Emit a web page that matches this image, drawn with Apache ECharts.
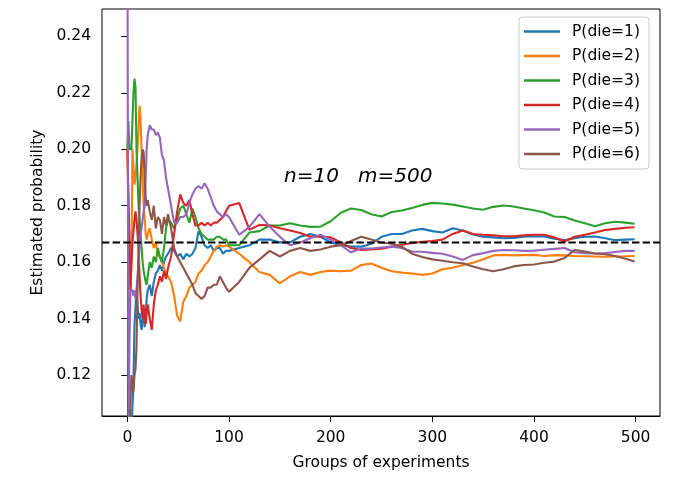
<!DOCTYPE html>
<html>
<head>
<meta charset="utf-8">
<script src="https://cdn.jsdelivr.net/npm/echarts@6/dist/echarts.min.js"></script>
<style>html,body{margin:0;padding:0;background:#fff}#c{width:700px;height:480px}</style>
</head>
<body>
<div id="c"></div>
<script>
// groups of experiments (x positions where values were read)
const groups = [0,1,2,3,4,5,6,7,8,9,10,11,12,13,14,15,16,17,18,19,20,
  22,24,26,28,30,32,34,36,38,40,
  43,46,49,52,55,58,61,64,67,70,73,76,79,82,85,88,91,94,97,100,
  110,120,130,140,150,160,170,180,190,200,210,220,230,240,250,260,270,280,290,300,
  310,320,330,340,350,360,370,380,390,400,410,420,430,440,450,460,470,480,490,499];

const die1 = [0.1,0.1,0.1,0.1,0.1,0.1,0.117,0.1375,0.144,0.15,0.145,0.14,0.142,0.138,0.136,0.14,0.143,0.137,0.141,0.147,0.15,
  0.152,0.148,0.153,0.156,0.157,0.159,0.157,0.16,0.162,0.163,
  0.165,0.164,0.162,0.163,0.161,0.163,0.162,0.163,0.165,0.171,0.169,0.166,0.165,0.166,0.164,0.165,0.165,0.163,0.164,0.164,
  0.165,0.166,0.168,0.168,0.167,0.167,0.169,0.170,0.169,0.167,0.166,0.1655,0.1655,0.1665,0.169,0.170,0.170,0.1712,0.1718,0.1710,
  0.1705,0.1720,0.1712,0.1698,0.1690,0.1688,0.1685,0.1686,0.1690,0.1692,0.1691,0.1683,0.1678,0.1685,0.1690,0.1691,0.1685,0.1678,0.1680,0.1681];

const die2 = [0.2,0.2,0.167,0.15,0.16,0.2,0.2,0.1875,0.19,0.195,0.2,0.208,0.2154,0.21,0.2,0.19,0.18,0.176,0.17,0.168,0.17,
  0.172,0.168,0.165,0.167,0.163,0.162,0.16,0.158,0.156,0.155,
  0.153,0.148,0.141,0.139,0.146,0.148,0.151,0.152,0.153,0.156,0.157,0.159,0.160,0.162,0.164,0.1655,0.166,0.1655,0.166,0.1655,
  0.163,0.160,0.1565,0.1555,0.1525,0.155,0.1565,0.1555,0.1565,0.157,0.1568,0.157,0.159,0.1595,0.158,0.1568,0.1563,0.156,0.1555,0.156,
  0.1575,0.158,0.159,0.1598,0.161,0.1624,0.1626,0.1624,0.1625,0.1626,0.1622,0.1625,0.1624,0.1622,0.1621,0.162,0.1619,0.162,0.1621,0.1622];

const die3 = [0.2,0.21,0.2,0.2,0.2,0.21,0.22,0.225,0.222,0.2,0.19,0.18,0.175,0.17,0.165,0.16,0.157,0.155,0.153,0.152,0.155,
  0.16,0.158,0.162,0.16,0.165,0.162,0.16,0.165,0.172,0.175,
  0.174,0.172,0.175,0.179,0.18,0.177,0.174,0.179,0.176,0.172,0.170,0.169,0.168,0.168,0.168,0.169,0.169,0.168,0.168,0.166,
  0.166,0.1705,0.171,0.173,0.173,0.1738,0.173,0.1725,0.1726,0.1745,0.1775,0.179,0.1785,0.177,0.1762,0.1778,0.1783,0.1792,0.1803,0.181,
  0.1808,0.1804,0.1797,0.179,0.1786,0.1796,0.1801,0.1797,0.179,0.1784,0.1776,0.1762,0.176,0.1748,0.1738,0.1727,0.1738,0.1743,0.174,0.1736];

const die4 = [0.2,0.2,0.167,0.15,0.16,0.167,0.171,0.175,0.178,0.175,0.17,0.165,0.155,0.148,0.143,0.14,0.145,0.14,0.138,0.142,0.145,
  0.14,0.136,0.145,0.15,0.152,0.155,0.153,0.157,0.154,0.158,
  0.162,0.17,0.178,0.184,0.181,0.18,0.182,0.177,0.173,0.173,0.174,0.173,0.174,0.173,0.174,0.174,0.175,0.176,0.178,0.18,
  0.181,0.1715,0.1732,0.173,0.172,0.1712,0.1703,0.169,0.1691,0.1688,0.167,0.165,0.1643,0.1645,0.1648,0.1655,0.1662,0.1668,0.1672,0.1675,
  0.168,0.17,0.1712,0.17,0.1697,0.1695,0.1692,0.1692,0.1695,0.1697,0.1697,0.1688,0.1673,0.169,0.1697,0.1705,0.1714,0.1718,0.1722,0.1724];

const die5 = [0.3,0.1,0.13,0.15,0.15,0.15,0.148,0.15,0.147,0.15,0.155,0.16,0.165,0.17,0.172,0.175,0.178,0.18,0.19,0.2,0.205,
  0.2085,0.207,0.207,0.205,0.206,0.204,0.198,0.196,0.19,0.186,
  0.18,0.174,0.174,0.176,0.176,0.177,0.181,0.184,0.186,0.187,0.186,0.188,0.186,0.183,0.18,0.178,0.177,0.176,0.177,0.176,
  0.1697,0.1725,0.177,0.1726,0.169,0.166,0.167,0.1685,0.1697,0.168,0.166,0.1635,0.1648,0.1648,0.1652,0.1655,0.165,0.1638,0.1637,0.1633,
  0.163,0.162,0.1608,0.1625,0.1632,0.164,0.1643,0.1642,0.164,0.1641,0.1644,0.1647,0.165,0.1635,0.1632,0.1631,0.1632,0.1636,0.164,0.164];

const die6 = [0.0,0.05,0.1,0.1,0.12,0.117,0.114,0.12,0.122,0.13,0.15,0.165,0.18,0.19,0.197,0.2,0.199,0.19,0.183,0.18,0.182,
  0.178,0.175,0.18,0.172,0.176,0.175,0.17,0.176,0.173,0.177,
  0.172,0.165,0.162,0.16,0.158,0.156,0.154,0.152,0.149,0.148,0.147,0.148,0.151,0.151,0.152,0.152,0.155,0.153,0.151,0.1495,
  0.153,0.158,0.161,0.164,0.162,0.164,0.165,0.164,0.1645,0.1655,0.166,0.1675,0.169,0.168,0.167,0.1665,0.1655,0.163,0.1618,0.161,
  0.1605,0.16,0.1596,0.1585,0.1575,0.1568,0.1575,0.1585,0.159,0.1592,0.1598,0.1602,0.1615,0.1643,0.1638,0.1631,0.1628,0.1622,0.1612,0.1602];

const seriesNames = ['P(die=1)','P(die=2)','P(die=3)','P(die=4)','P(die=5)','P(die=6)'];
const seriesValues = [die1, die2, die3, die4, die5, die6];
const xTicks = [0,100,200,300,400,500];
const yTicks = [0.12,0.14,0.16,0.18,0.20,0.22,0.24];
const xRange = [-24.95, 523.95];
const trueProb = 0.167;
const annotation = 'n=10   m=500';

const colors = ['#1f77b4','#ff7f0e','#2ca02c','#d62728','#9467bd','#8c564b'];
const FONT = 'DejaVu Sans';

const chart = echarts.init(document.getElementById('c'), null, {renderer:'canvas'});
const series = seriesValues.map((vals, k) => ({
  name: seriesNames[k],
  type: 'line',
  data: groups.map((g, i) => [g, vals[i]]),
  symbol: 'none',
  showSymbol: false,
  clip: true,
  lineStyle: {color: colors[k], width: 2.1},
  itemStyle: {color: colors[k]},
  z: 2
}));
series.push({
  name: 'ref',
  type: 'line',
  data: [[xRange[0], trueProb], [xRange[1], trueProb]],
  symbol: 'none',
  showSymbol: false,
  silent: true,
  lineStyle: {color: '#000', width: 2, type: [7.4, 3.2]},
  z: 5
});

chart.setOption({
  animation: false,
  textStyle: {fontFamily: FONT},
  grid: {left: 102, right: 40, top: 9, bottom: 64, show: true, borderColor: '#000', borderWidth: 1, backgroundColor: 'transparent'},
  xAxis: {
    type: 'value', min: xRange[0], max: xRange[1],
    name: 'Groups of experiments', nameLocation: 'middle', nameGap: 39,
    nameTextStyle: {fontSize: 15.5, color: '#000', fontFamily: FONT},
    axisLine: {show: true, lineStyle: {color: '#000', width: 1}},
    axisTick: {show: true, length: 6, lineStyle: {color: '#000', width: 1}, customValues: xTicks},
    axisLabel: {fontSize: 15.5, color: '#000', margin: 14, fontFamily: FONT, customValues: xTicks},
    splitLine: {show: false}
  },
  yAxis: {
    type: 'value', min: 0.1055, max: 0.2497,
    name: 'Estimated probability', nameLocation: 'middle', nameGap: 56,
    nameTextStyle: {fontSize: 15.5, color: '#000', fontFamily: FONT},
    axisLine: {show: true, lineStyle: {color: '#000', width: 1}},
    axisTick: {show: true, length: 6, lineStyle: {color: '#000', width: 1}, customValues: yTicks},
    axisLabel: {fontSize: 15.5, color: '#000', margin: 11, fontFamily: FONT, customValues: yTicks,
      formatter: v => v.toFixed(2)},
    splitLine: {show: false}
  },
  legend: {
    data: seriesNames.map(n => ({name: n, icon: 'rect'})),
    orient: 'vertical',
    left: 519, top: 17,
    padding: [6.5, 9, 7, 5],
    itemWidth: 36, itemHeight: 2.5, itemGap: 8.5,
    backgroundColor: 'rgba(255,255,255,0.8)',
    borderColor: '#cccccc', borderWidth: 1, borderRadius: 3,
    textStyle: {fontSize: 15.5, color: '#000', fontFamily: FONT, lineHeight: 16, padding: [0,0,0,7]}
  },
  graphic: [{
    type: 'text', left: 284, top: 167, z: 10,
    style: {text: annotation, fontSize: 20, fontStyle: 'italic', fontFamily: FONT, fill: '#000'}
  }],
  series: series
});
</script>
</body>
</html>
